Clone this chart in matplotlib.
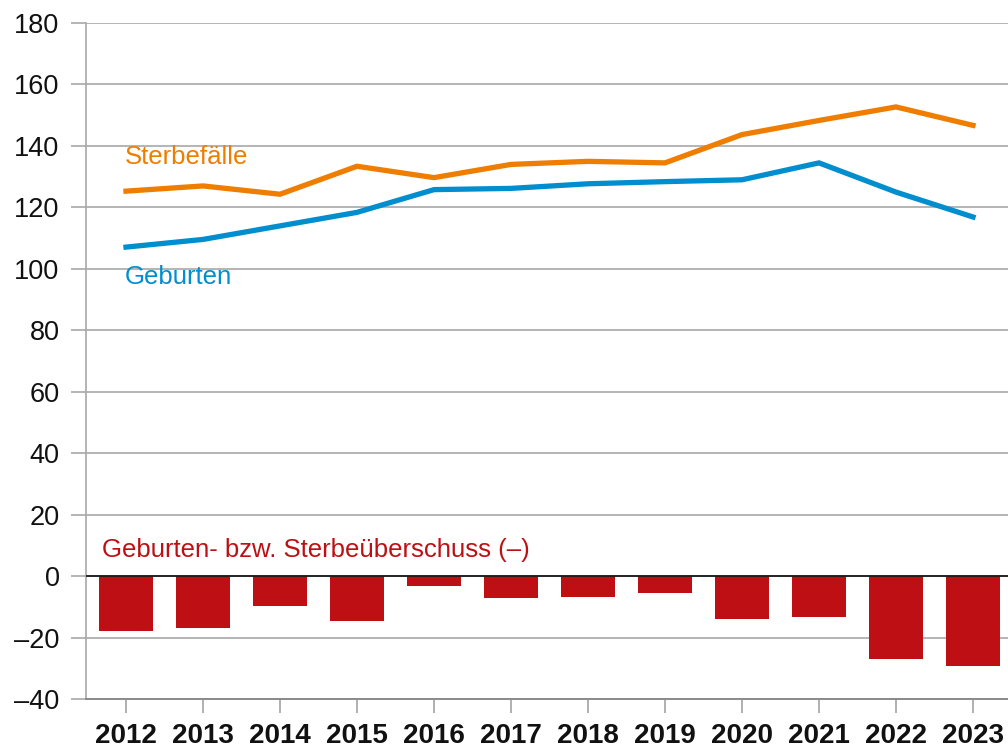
import matplotlib
matplotlib.use("Agg")
import matplotlib.pyplot as plt
import numpy as np

years = ["2012", "2013", "2014", "2015", "2016", "2017", "2018", "2019", "2020", "2021", "2022", "2023"]
sterbefaelle = [125.2, 126.9, 124.2, 133.3, 129.6, 133.9, 134.9, 134.4, 143.6, 148.2, 152.6, 146.6]
geburten = [107.0, 109.5, 113.9, 118.3, 125.7, 126.1, 127.6, 128.3, 128.9, 134.4, 124.9, 116.8]
saldo = [-17.9, -16.8, -9.8, -14.7, -3.4, -7.1, -6.7, -5.5, -14.1, -13.2, -26.9, -29.4]
y_ticks = [-40, -20, 0, 20, 40, 60, 80, 100, 120, 140, 160, 180]
y_ticklabels = ["–40", "–20", "0", "20", "40", "60", "80", "100", "120", "140", "160", "180"]

c_orange = "#EF7D00"
c_blue = "#008ECF"
c_red = "#BE1014"
c_grid = "#A8A8A8"

plt.rcParams['font.family'] = ['Liberation Sans', 'DejaVu Sans']

fig = plt.figure(figsize=(10.08, 7.51), dpi=100)
ax = fig.add_axes([86/1008, 1-699/751, 1-86/1008, (699-22.7)/751])

x = np.arange(len(years))
ax.bar(x, saldo, width=0.70, color=c_red, zorder=3)
ax.plot(x, sterbefaelle, color=c_orange, lw=3.8, zorder=4, solid_joinstyle='miter')
ax.plot(x, geburten, color=c_blue, lw=3.8, zorder=4, solid_joinstyle='miter')
ax.axhline(0, color="#1a1a1a", lw=1.3, zorder=5)

ax.set_xlim(-40/77, 11 + 35/77)
ax.set_ylim(-40, 180)
ax.set_yticks(y_ticks)
ax.set_yticklabels(y_ticklabels)
ax.set_xticks(x)
ax.set_xticklabels(years, fontweight='bold')

ax.yaxis.grid(True, color=c_grid, lw=1.2, zorder=1)
ax.set_axisbelow(True)
for s in ["top", "right"]:
    ax.spines[s].set_visible(False)
ax.spines["left"].set_color(c_grid)
ax.spines["left"].set_linewidth(1.2)
ax.spines["bottom"].set_color("#8a8a8a")
ax.spines["bottom"].set_linewidth(1.4)

ax.tick_params(axis='y', length=11, width=1.2, color=c_grid, pad=8, labelsize=19.5, labelcolor="#111111")
ax.tick_params(axis='x', length=10, width=1.4, color="#b0b0b0", pad=7, labelsize=20, labelcolor="#111111")

ax.text(-0.02, 136.3, "Sterbefälle", color=c_orange, fontsize=18.5, ha='left', va='center')
ax.text(-0.02, 97.2, "Geburten", color=c_blue, fontsize=18.5, ha='left', va='center')
ax.text(-0.31, 8.4, "Geburten- bzw. Sterbeüberschuss (–)", color=c_red, fontsize=18.5, ha='left', va='center')

fig.savefig("out.png", dpi=100)
